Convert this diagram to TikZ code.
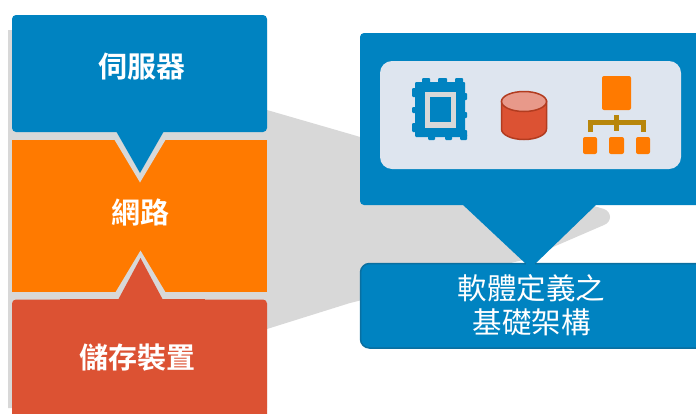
\documentclass[tikz,border=0pt]{standalone}
\usepackage{fontspec}
\setmainfont{Noto Sans CJK TC}[BoldFont={Noto Sans CJK TC Bold}]
\definecolor{dellblue}{HTML}{0083C1}
\definecolor{edgeblue}{HTML}{0A6FA0}
\definecolor{dellorange}{HTML}{FF7A00}
\definecolor{dellred}{HTML}{DC5233}
\definecolor{darkred}{HTML}{B23C20}
\definecolor{lightred}{HTML}{E8998A}
\definecolor{funnel}{HTML}{D8D8D8}
\definecolor{panel}{HTML}{DEE5EF}
\definecolor{linkgold}{HTML}{B8860B}
\tikzset{
  blockfill/.style={rounded corners=4pt},
  blocklabel/.style={text=white,font=\fontsize{29}{29}\selectfont\bfseries,inner sep=0pt},
  infralabel/.style={text=white,font=\fontsize{29.5}{34}\selectfont,align=center,inner sep=0pt},
  orgbox/.style={fill=dellorange,rounded corners=2pt},
  goldline/.style={draw=linkgold,line width=5pt}
}
\begin{document}
\begin{tikzpicture}[x=1pt,y=-1pt]
\useasboundingbox (0,0) rectangle (696,413);
% grey funnel
\fill[funnel] (8,30) -- (267,30) -- (267,110) -- (350,134)
  -- (604,209) .. controls (612,212) and (612,222) .. (604,225)
  -- (523,260) -- (350,303) -- (267,329) -- (267,408) -- (8,408) -- cycle;
% orange block
\fill[dellorange] (12,140) rectangle (267,292);
% notches
\fill[funnel] (114,139) -- (140,182.5) -- (166,139) -- cycle;
\fill[funnel] (115,293) -- (140.5,250.5) -- (166,293) -- cycle;
% red block
\fill[dellred,blockfill] (12,299.5) -- (267,299.5) -- (267,420) -- (12,420) -- cycle;
\fill[dellred] (60,299) rectangle (205,304);
\fill[dellred] (118,300) -- (140.5,258) -- (163,300) -- cycle;
% server block
\fill[dellblue,blockfill] (12,15) rectangle (267,132);
\fill[dellblue] (116,131) -- (140,173) -- (164,131) -- cycle;
% right block
\fill[dellblue,blockfill] (360,33) rectangle (702,205);
\fill[dellblue] (462,204) -- (526,264) -- (535,264) -- (597,204) -- cycle;
\filldraw[fill=dellblue,draw=edgeblue,line width=1.5pt,rounded corners=9pt] (360.5,263.5) rectangle (705,348);
\fill[dellblue] (526,262) rectangle (535,266);
% panel
\fill[panel,rounded corners=12pt] (380,61) rectangle (681,169);
% chip
\fill[dellblue,rounded corners=1pt] (415,82) rectangle (465,137);
\foreach \a/\b in {422/430,438/447,455/463}
  \fill[dellblue,rounded corners=1pt] (\a,78) rectangle (\b,85);
\foreach \a/\b in {428/435,445/452,460/467}
  \fill[dellblue,rounded corners=1pt] (\a,134) rectangle (\b,140);
\foreach \a/\b in {88/97,107/113,123/132}
  \fill[dellblue,rounded corners=1pt] (412,\a) rectangle (418,\b);
\foreach \a/\b in {93/100,112/118,130/137}
  \fill[dellblue,rounded corners=1pt] (462,\a) rectangle (467,\b);
\fill[funnel] (425,92) rectangle (456,128);
\fill[dellblue] (430,97) rectangle (451,122);
% cylinder
\filldraw[fill=dellred,draw=darkred,line width=1.5pt]
  (501.5,101) -- (501.5,129) arc[start angle=180,end angle=0,x radius=22.5,y radius=10.5]
  -- (546.5,101) -- cycle;
\filldraw[fill=lightred,draw=darkred,line width=1.5pt] (524,101.5) ellipse[x radius=22.5,y radius=10];
% org chart
\fill[orgbox] (602,76) rectangle (631,110);
\draw[goldline] (590.5,132) -- (590.5,122.5) -- (643,122.5) -- (643,132);
\draw[goldline] (616,115) -- (616,131);
\fill[orgbox] (583,137) rectangle (597,154);
\fill[orgbox] (609,137) rectangle (624,154);
\fill[orgbox] (636,137) rectangle (650,154);
% labels
\node[blocklabel] (server) at (142,67) {伺服器};
\node[blocklabel] (network) at (140,212) {網路};
\node[blocklabel] (storage) at (137,358) {儲存裝置};
\node[infralabel] (infra) at (531.5,305) {軟體定義之\\基礎架構};
\end{tikzpicture}
\end{document}
